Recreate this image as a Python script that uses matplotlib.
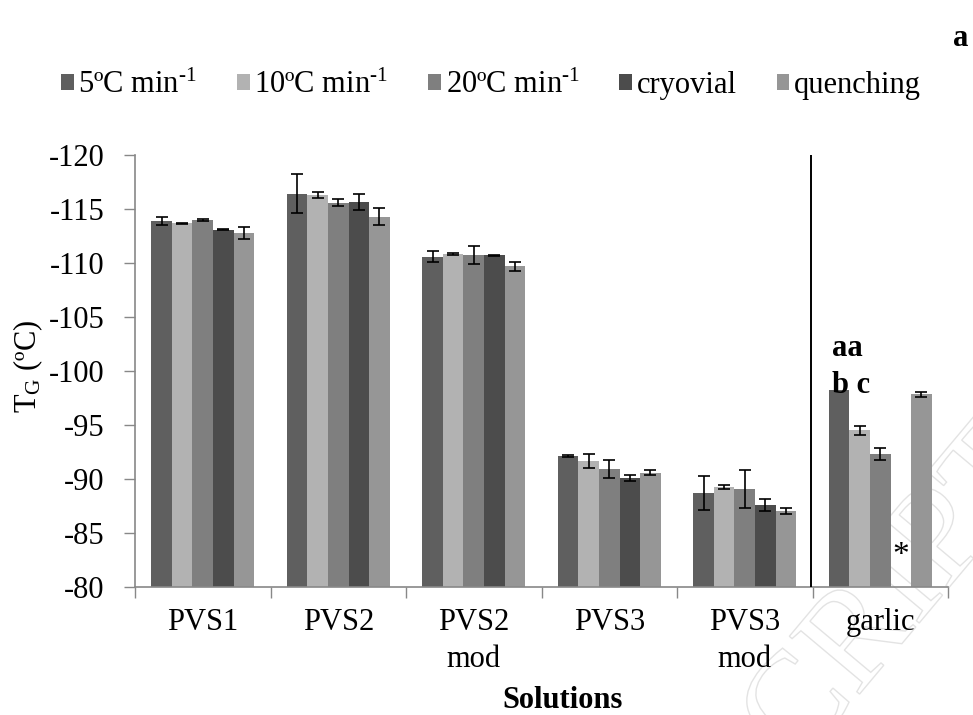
import numpy as np
import matplotlib
matplotlib.use('Agg')
from matplotlib import pyplot as plt
from matplotlib.patches import Patch
import matplotlib.patheffects as pe

plt.rcParams['font.family'] = ['Liberation Serif', 'DejaVu Serif']
plt.rcParams['mathtext.fontset'] = 'custom'
plt.rcParams['mathtext.rm'] = 'Liberation Serif'
plt.rcParams['mathtext.it'] = 'Liberation Serif:italic'
plt.rcParams['axes.unicode_minus'] = False

# data (glass transition temperature, ºC)
solutions = ['PVS1', 'PVS2', 'PVS2\nmod', 'PVS3', 'PVS3\nmod', 'garlic']
series = ['5ºC min$^{\\text{-}1}$', '10ºC min$^{\\text{-}1}$',
          '20ºC min$^{\\text{-}1}$', 'cryovial', 'quenching']

tg_5 = [-113.9, -116.4, -110.6, -92.1, -88.7, -98.2]
err_5 = [0.4, 1.8, 0.5, 0.08, 1.6, np.nan]
tg_10 = [-113.7, -116.3, -110.85, -91.7, -89.3, -94.5]
err_10 = [0.05, 0.3, 0.08, 0.65, 0.18, 0.43]
tg_20 = [-114.0, -115.6, -110.75, -90.95, -89.1, -92.3]
err_20 = [0.1, 0.35, 0.85, 0.83, 1.76, 0.54]
tg_cryo = [-113.1, -115.65, -110.7, -90.05, -87.6, np.nan]
err_cryo = [0.08, 0.77, 0.05, 0.28, 0.54, np.nan]
tg_quench = [-112.8, -114.3, -109.7, -90.6, -87.05, -97.85]
err_quench = [0.55, 0.77, 0.43, 0.2, 0.28, 0.25]

values = [tg_5, tg_10, tg_20, tg_cryo, tg_quench]
errors = [err_5, err_10, err_20, err_cryo, err_quench]
colors = ['#5f5f5f', '#b2b2b2', '#7f7f7f', '#4c4c4c', '#969696']

base = -80

fig = plt.figure(figsize=(9.73, 7.15), dpi=100)

# faint watermark behind the chart (outline only)
fig.text(1024 / 973, 1 - 446 / 715, 'ACCEPTED MANUSCRIPT', fontsize=100,
         ha='right', va='center', rotation=50, rotation_mode='anchor',
         zorder=-5,
         path_effects=[pe.PathPatchEffect(facecolor='none', edgecolor='#e3e3e3',
                                          linewidth=1.0)])

ax = fig.add_axes([135 / 973, 1 - 587 / 715, 813 / 973, 432 / 715])
ax.patch.set_alpha(0)

x = np.arange(len(solutions))
width = 0.152
for i, (vals, errs) in enumerate(zip(values, errors)):
    xs = x + (i - 2) * width
    vals = np.array(vals, dtype=float)
    errs = np.array(errs, dtype=float)
    ax.bar(xs, vals - base, width, bottom=base, color=colors[i],
           edgecolor='none', zorder=2)
    ok = ~np.isnan(vals) & ~np.isnan(errs)
    ax.errorbar(xs[ok], vals[ok], yerr=errs[ok], fmt='none', ecolor='black',
                elinewidth=1.2, capsize=4.5, capthick=1.2, zorder=3)

ax.set_xlim(-0.5, len(solutions) - 0.5)
ax.set_ylim(-80, -120)
ax.set_yticks(np.arange(-80, -121, -5))

# group separators as major ticks, names on minor ticks
ax.set_xticks(np.arange(-0.5, len(solutions), 1.0))
ax.set_xticklabels([])
ax.set_xticks(x, minor=True)
ax.set_xticklabels(solutions, minor=True, linespacing=1.35)
ax.tick_params(axis='x', which='major', length=8, width=1, color='#888888',
               direction='out')
ax.tick_params(axis='x', which='minor', length=0, pad=15, labelsize=22)
ax.tick_params(axis='y', length=8, width=1, color='#888888', direction='out',
               pad=14, labelsize=22)

for s in ['top', 'right']:
    ax.spines[s].set_visible(False)
for s in ['left', 'bottom']:
    ax.spines[s].set_color('#888888')
    ax.spines[s].set_linewidth(1.2)

# separator between the solutions and garlic
ax.axvline(4.49, color='black', linewidth=1.4, zorder=4)

# letters and asterisk
ax.text(4.644, -102.1, 'aa', fontsize=22, fontweight='bold', ha='left',
        va='center', zorder=5)
ax.text(4.644, -98.7, 'b c', fontsize=22, fontweight='bold', ha='left',
        va='center', zorder=5)
ax.text(5.153, -82.9, '*', fontsize=24, ha='center', va='center', zorder=5)

fig.text(28 / 973, 1 - 366 / 715, 'T$_\\mathrm{G}$ (ºC)', fontsize=22,
         rotation=90, ha='center', va='center')
fig.text(563 / 973, 1 - 700 / 715, 'Solutions', fontsize=22,
         fontweight='bold', ha='center', va='center')
fig.text(961 / 973, 1 - 38 / 715, 'a', fontsize=22, fontweight='bold',
         ha='center', va='center')

handles = [Patch(facecolor=c, edgecolor='none') for c in colors]
fig.legend(handles, series, loc='center', bbox_to_anchor=(491 / 973, 1 - 85 / 715),
           ncol=5, frameon=False, fontsize=22, handlelength=0.42,
           handleheight=0.42, handletextpad=0.15, columnspacing=1.3,
           borderaxespad=0)

fig.savefig('out.png', dpi=100)
